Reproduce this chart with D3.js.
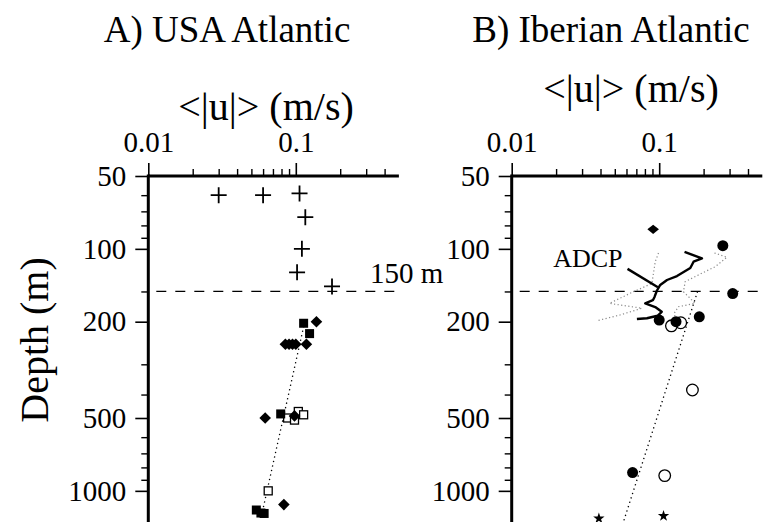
<!DOCTYPE html>
<html>
<head>
<meta charset="utf-8">
<script src="https://cdn.jsdelivr.net/npm/d3@7"></script>
<style>
  html, body { margin: 0; padding: 0; background: #fff; }
  svg { display: block; font-family: "Liberation Serif", "Times New Roman", serif; }
</style>
</head>
<body>
<svg id="chart" width="765" height="522"></svg>
<script>
// ---- axis ticks ----
const depthMajor = [50, 100, 200, 500, 1000];
const depthMinor = [60, 70, 80, 90, 150, 300, 400, 600, 700, 800, 900];
const speedMajor = [0.01, 0.1];
const speedMinor = [0.02, 0.03, 0.04, 0.05, 0.06, 0.07, 0.08, 0.09, 0.2, 0.3, 0.4];
const refDepth = 150;

// ---- A) USA Atlantic: [speed m/s, depth m] ----
const usaCross = [[0.03, 60], [0.06, 60], [0.106, 59], [0.116, 74], [0.11, 100], [0.102, 125], [0.176, 143]];
const usaDiamond = [[0.138, 200], [0.118, 248], [0.085, 248], [0.09, 248], [0.095, 248], [0.1, 248],
                    [0.062, 500], [0.098, 490], [0.083, 1140]];
const usaSquareFilled = [[0.113, 203], [0.124, 224], [0.079, 481], [0.054, 1200], [0.058, 1235], [0.061, 1240]];
const usaSquareOpen = [[0.088, 500], [0.098, 510], [0.104, 470], [0.113, 485], [0.065, 1000]];
const usaFit = [[0.115, 200], [0.0588, 1250]];

// ---- B) Iberian Atlantic ----
const iberDiamond = [[0.091, 83]];
const iberCircleFilled = [[0.27, 97], [0.315, 153], [0.187, 191], [0.1, 197], [0.13, 200], [0.066, 840]];
const iberCircleOpen = [[0.121, 208], [0.14, 202], [0.168, 383], [0.109, 865]];
const iberStar = [[0.039, 1300], [0.107, 1270]];
const iberFit = [[0.182, 150], [0.056, 1400]];
const adcpMean = [[0.1485, 103], [0.195, 109.5], [0.171, 113], [0.1625, 120], [0.132, 129.5], [0.113, 134.5],
                  [0.1016, 141], [0.0964, 149], [0.093, 158], [0.0906, 163], [0.0804, 168], [0.094, 174],
                  [0.104, 182], [0.0974, 189], [0.0826, 193.6], [0.0706, 195]];
const adcpLow = [[0.0989, 104], [0.094, 113], [0.0915, 126], [0.0892, 139], [0.0636, 152.6], [0.046, 168],
                 [0.0763, 176], [0.0543, 187.6], [0.0381, 198]];
const adcpHigh = [[0.237, 104], [0.288, 108.4], [0.24, 118.5], [0.195, 126], [0.15, 136.7], [0.146, 150.4],
                  [0.162, 160], [0.175, 168], [0.135, 173.4], [0.1265, 184.6], [0.128, 191]];
const adcpLeader = [[0.061, 121], [0.098, 144]];

// ---- layout ----
const svg = d3.select("#chart");
const plotTop = 176;
const decadeY = 242;
const decadeX = 147.5;
const speedDomain = [0.01, 0.5];
const depthDomain = [50, 1500];

const y = d3.scaleLog().domain(depthDomain)
  .range([plotTop, plotTop + decadeY * Math.log10(depthDomain[1] / depthDomain[0])]);

function makeX(left) {
  return d3.scaleLog().domain(speedDomain)
    .range([left, left + decadeX * Math.log10(speedDomain[1] / speedDomain[0])]);
}

const panels = [
  { left: 148.3, title: "A) USA Atlantic", titleX: 227, unitX: 266, unitY: 120 },
  { left: 511.7, title: "B) Iberian Atlantic", titleX: 611, unitX: 631, unitY: 102 }
];

// symbol generators
const diamond = (s) => `M0,${-s}L${s},0L0,${s}L${-s},0Z`;

function drawPanel(p, draw) {
  const x = makeX(p.left);
  const g = svg.append("g");

  // titles
  svg.append("text").attr("x", p.titleX).attr("y", 42)
    .attr("text-anchor", "middle").attr("font-size", 37).text(p.title);
  svg.append("text").attr("x", p.unitX).attr("y", p.unitY)
    .attr("text-anchor", "middle").attr("font-size", 40).text("<|u|> (m/s)");

  // reference depth
  g.append("line")
    .attr("x1", x.range()[0]).attr("x2", x.range()[1])
    .attr("y1", y(refDepth)).attr("y2", y(refDepth))
    .attr("stroke", "#000").attr("stroke-width", 1.2)
    .attr("stroke-dasharray", "10,9").attr("stroke-dashoffset", -8);

  draw(g, x);

  // axes
  const axStyle = (sel, w) => {
    sel.select(".domain").remove();
    sel.selectAll(".tick line").attr("stroke", "#000").attr("stroke-width", w);
    sel.selectAll(".tick text").attr("fill", "#000")
      .attr("font-family", "Liberation Serif, Times New Roman, serif").attr("font-size", 29);
  };
  const topMajor = svg.append("g").attr("transform", `translate(0,${plotTop})`)
    .call(d3.axisTop(x).tickValues(speedMajor).tickSize(13).tickPadding(11)
      .tickFormat(d => d === 0.01 ? "0.01" : "0.1"));
  axStyle(topMajor, 1.6);
  const topMinor = svg.append("g").attr("transform", `translate(0,${plotTop})`)
    .call(d3.axisTop(x).tickValues(speedMinor).tickSize(7).tickFormat(""));
  axStyle(topMinor, 1.4);

  const leftMajor = svg.append("g").attr("transform", `translate(${p.left},0)`)
    .call(d3.axisLeft(y).tickValues(depthMajor).tickSize(13).tickPadding(9)
      .tickFormat(d3.format("d")));
  axStyle(leftMajor, 1.6);
  const leftMinor = svg.append("g").attr("transform", `translate(${p.left},0)`)
    .call(d3.axisLeft(y).tickValues(depthMinor).tickSize(7).tickFormat(""));
  axStyle(leftMinor, 1.4);

  // heavy frame lines
  svg.append("line").attr("x1", p.left).attr("x2", x.range()[1])
    .attr("y1", plotTop).attr("y2", plotTop).attr("stroke", "#000").attr("stroke-width", 3);
  svg.append("line").attr("x1", p.left).attr("x2", p.left)
    .attr("y1", plotTop - 1.5).attr("y2", 522).attr("stroke", "#000").attr("stroke-width", 3);
  return x;
}

function fitLine(g, x, pts) {
  g.append("path").attr("d", d3.line().x(d => x(d[0])).y(d => y(d[1]))(pts))
    .attr("fill", "none").attr("stroke", "#000").attr("stroke-width", 1.3)
    .attr("stroke-dasharray", "1.3,3.3");
}

// Panel A
drawPanel(panels[0], (g, x) => {
  fitLine(g, x, usaFit);
  g.selectAll(".cross").data(usaCross).join("path")
    .attr("transform", d => `translate(${x(d[0])},${y(d[1])})`)
    .attr("d", "M-8,0H8M0,-8V8").attr("stroke", "#000").attr("stroke-width", 1.8);
  g.selectAll(".sqo").data(usaSquareOpen).join("rect")
    .attr("x", d => x(d[0]) - 4).attr("y", d => y(d[1]) - 4)
    .attr("width", 8).attr("height", 8)
    .attr("fill", "#fff").attr("stroke", "#000").attr("stroke-width", 1.3);
  g.selectAll(".sqf").data(usaSquareFilled).join("rect")
    .attr("x", d => x(d[0]) - 4.5).attr("y", d => y(d[1]) - 4.5)
    .attr("width", 9).attr("height", 9).attr("fill", "#000");
  g.selectAll(".dia").data(usaDiamond).join("path")
    .attr("transform", d => `translate(${x(d[0])},${y(d[1])})`)
    .attr("d", diamond(5.8)).attr("fill", "#000");
  svg.append("text").attr("x", 370).attr("y", y(refDepth) - 8)
    .attr("font-size", 29).text("150 m");
});

// Panel B
drawPanel(panels[1], (g, x) => {
  const ln = d3.line().x(d => x(d[0])).y(d => y(d[1]));
  [adcpLow, adcpHigh].forEach(s => {
    g.append("path").attr("d", ln(s)).attr("fill", "none")
      .attr("stroke", "#8a8a8a").attr("stroke-width", 1.2).attr("stroke-dasharray", "1.2,2.4");
  });
  fitLine(g, x, iberFit);
  g.append("path").attr("d", ln(adcpMean)).attr("fill", "none")
    .attr("stroke", "#000").attr("stroke-width", 2.4).attr("stroke-linejoin", "round");
  g.append("path").attr("d", ln(adcpLeader)).attr("fill", "none")
    .attr("stroke", "#000").attr("stroke-width", 2.4);
  g.append("text")
    .attr("x", x(adcpLeader[0][0]) - 5).attr("y", y(adcpLeader[0][1]) - 2)
    .attr("text-anchor", "end").attr("font-size", 26).text("ADCP");

  g.selectAll(".cf").data(iberCircleFilled).join("circle")
    .attr("cx", d => x(d[0])).attr("cy", d => y(d[1])).attr("r", 5.5).attr("fill", "#000");
  g.selectAll(".co").data(iberCircleOpen).join("circle")
    .attr("cx", d => x(d[0])).attr("cy", d => y(d[1])).attr("r", 5.8)
    .attr("fill", "none").attr("stroke", "#000").attr("stroke-width", 1.3);
  g.selectAll(".dia").data(iberDiamond).join("path")
    .attr("transform", d => `translate(${x(d[0])},${y(d[1])}) scale(1,0.8)`)
    .attr("d", diamond(5.8)).attr("fill", "#000");
  g.selectAll(".star").data(iberStar).join("path")
    .attr("transform", d => `translate(${x(d[0])},${y(d[1])})`)
    .attr("d", d3.symbol(d3.symbolStar, 40)).attr("fill", "#000");
});

// shared vertical axis title
svg.append("text")
  .attr("transform", "translate(48,340) rotate(-90)")
  .attr("text-anchor", "middle").attr("font-size", 40).text("Depth (m)");
</script>
</body>
</html>
